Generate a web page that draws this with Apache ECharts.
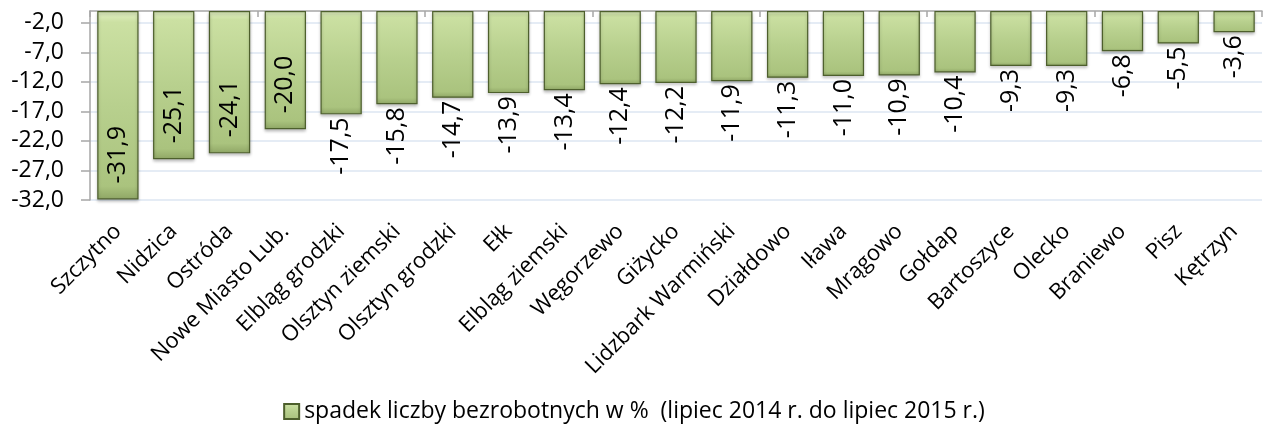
<!DOCTYPE html>
<html>
<head>
<meta charset="utf-8">
<script src="https://cdn.jsdelivr.net/npm/echarts@6/dist/echarts.min.js"></script>
<style>
html,body{margin:0;padding:0;background:#fff;}
#chart{width:1268px;height:428px;}
</style>
</head>
<body>
<div id="chart"></div>
<script>
const categories = ["Szczytno","Nidzica","Ostróda","Nowe Miasto Lub.","Elbląg grodzki","Olsztyn ziemski","Olsztyn grodzki","Ełk","Elbląg ziemski","Węgorzewo","Giżycko","Lidzbark Warmiński","Działdowo","Iława","Mrągowo","Gołdap","Bartoszyce","Olecko","Braniewo","Pisz","Kętrzyn"];
const values = [-31.9,-25.1,-24.1,-20.0,-17.5,-15.8,-14.7,-13.9,-13.4,-12.4,-12.2,-11.9,-11.3,-11.0,-10.9,-10.4,-9.3,-9.3,-6.8,-5.5,-3.6];
const insideLabelCount = 4;
const seriesName = "spadek liczby bezrobotnych w %  (lipiec 2014 r. do lipiec 2015 r.)";

const FONT = "Open Sans";
const fmt = v => v.toFixed(1).replace('.', ',');

const barColor = {
  type: 'linear', x: 0, y: 0, x2: 0, y2: 1,
  colorStops: [
    {offset: 0, color: '#e4f2c6'},
    {offset: 0.06, color: '#cbe0a2'},
    {offset: 0.5, color: '#b8d08e'},
    {offset: 0.93, color: '#aac37e'},
    {offset: 1, color: '#8fa665'}
  ]
};

const data = values.map((v, i) => {
  const inside = i < insideLabelCount;
  return {
    value: v,
    label: inside
      ? {position: 'insideBottom', distance: 16, align: 'left', verticalAlign: 'middle'}
      : {position: 'bottom', distance: 3, align: 'right', verticalAlign: 'middle'}
  };
});

const chart = echarts.init(document.getElementById('chart'));
chart.setOption({
  animation: false,
  backgroundColor: '#ffffff',
  grid: {left: 90, right: 6, top: 11, bottom: 228, containLabel: false},
  legend: {
    bottom: 0, left: 'center',
    itemWidth: 15, itemHeight: 15, itemGap: 3,
    textStyle: {fontFamily: FONT, fontSize: 23, color: '#000'},
    data: [{name: seriesName, icon: 'rect'}]
  },
  xAxis: [
    {
      type: 'category', data: categories, position: 'top',
      axisLine: {show: true, onZero: false, lineStyle: {color: '#a6a6a6', width: 1.5}},
      axisTick: {show: true, inside: true, length: 6, lineStyle: {color: '#a6a6a6', width: 1.5}},
      axisLabel: {show: false}, splitLine: {show: false}
    },
    {
      type: 'category', data: categories, position: 'bottom',
      axisLine: {show: false, onZero: false}, axisTick: {show: false},
      axisLabel: {rotate: 45, interval: 0, margin: 28, fontFamily: FONT, fontSize: 22, color: '#000'}
    }
  ],
  yAxis: {
    type: 'value', min: -32, max: 0, interval: 5,
    axisLine: {show: true, lineStyle: {color: '#a6a6a6', width: 1.5}},
    axisTick: {show: true, length: 9, lineStyle: {color: '#a6a6a6', width: 1.5}},
    axisLabel: {showMaxLabel: false, formatter: v => fmt(v), fontFamily: FONT, fontSize: 23, color: '#000', margin: 26},
    splitLine: {show: true, showMaxLine: false, lineStyle: {color: '#dce6f2', width: 1.5}}
  },
  series: [{
    name: seriesName,
    type: 'bar',
    xAxisIndex: 0,
    data: data,
    barCategoryGap: '26%',
    itemStyle: {color: barColor, borderColor: '#4d5f2c', borderWidth: 1.2,
      shadowColor: 'rgba(0,0,0,0.25)', shadowBlur: 3, shadowOffsetY: 2},
    label: {show: true, rotate: 90, formatter: p => fmt(p.value), fontFamily: FONT, fontSize: 25, color: '#000'}
  }]
});
</script>
</body>
</html>
